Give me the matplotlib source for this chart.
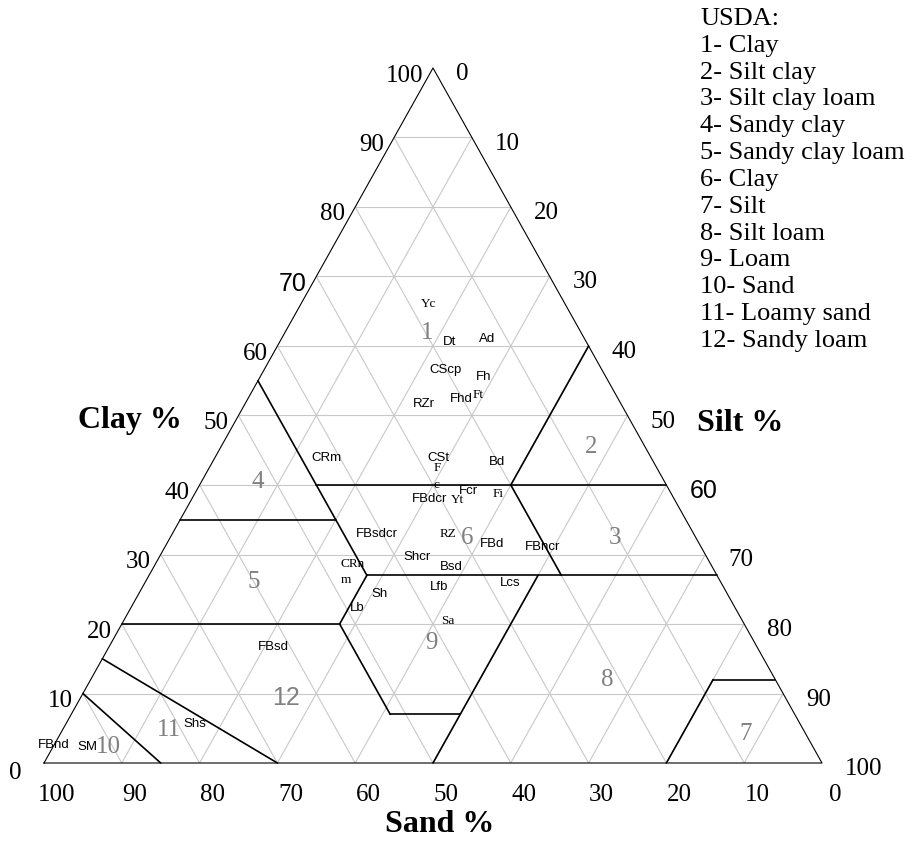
import matplotlib
matplotlib.use("Agg")
import matplotlib.pyplot as plt

SERIF = "Liberation Serif"
SANS = "Liberation Sans"

# ---- data -------------------------------------------------------------
# texture-class boundaries, each as a polyline of (clay %, silt %) vertices
boundary_clay = [
    [55, 27], [40, 40], [35, 35], [60, 40], [40, 27], [27, 27],
    [27, 20], [20, 7], [7, 7], [27, 0], [20, 20], [15, 0], [10, 0],
    [12, 0], [12, 12],
]
boundary_silt = [
    [0, 28], [15, 60], [0, 20], [40, 40], [40, 53], [28, 73],
    [28, 28], [28, 41], [41, 50], [50, 50], [0, 28], [0, 30], [0, 15],
    [80, 80], [80, 88],
]

# USDA class numbers and where they sit
class_ids = ["1", "2", "3", "4", "5", "6", "7", "8", "9", "10", "11", "12"]
class_clay = [61.9, 45.5, 32.4, 40.4, 26.0, 32.4, 4.2, 11.9, 17.3, 2.3, 4.7, 9.4]
class_silt = [18.3, 47.6, 57.2, 7.3, 13.9, 38.2, 88.1, 66.4, 41.2, 7.1, 13.7, 26.4]

# soil samples
sample_names = [
    "Yc", "Dt", "Ad", "CScp", "Fh", "Ft", "Fhd", "RZr", "CRm", "CSt", "F", "Bd",
    "c", "Fcr", "Fi", "FBdcr", "Yt", "FBsdcr", "RZ", "FBd", "FBncr", "CRn", "m",
    "Shcr", "Bsd", "Lfb", "Lcs", "Sh", "Lb", "Sa", "FBsd", "Shs", "FBnd", "SM",
]
sample_clay = [
    66.0, 60.6, 61.0, 56.5, 55.5, 52.9, 52.4, 51.7, 43.9, 43.9, 42.4, 43.3,
    40.0, 39.2, 38.7, 38.0, 37.8, 32.9, 32.9, 31.5, 31.1, 28.6, 26.3,
    29.6, 28.2, 25.3, 25.9, 24.3, 22.3, 20.4, 16.7, 5.6, 2.6, 2.3,
]
sample_silt = [
    16.4, 21.8, 26.4, 23.4, 28.7, 29.3, 27.5, 23.0, 14.4, 28.7, 29.3, 36.6,
    30.4, 34.9, 39.0, 30.6, 34.3, 26.4, 35.5, 41.8, 48.5, 25.4, 25.7,
    33.1, 38.3, 38.1, 47.0, 31.0, 29.1, 41.7, 21.1, 16.6, 0.0, 4.4,
]
serif_samples = {"Yc", "Ft", "F", "c", "Fi", "Yt", "RZ", "CRn", "m", "Sa"}

ticks = [0, 10, 20, 30, 40, 50, 60, 70, 80, 90, 100]

legend_lines = [
    "USDA:", "1- Clay", "2- Silt clay", "3- Silt clay loam", "4- Sandy clay",
    "5- Sandy clay loam", "6- Clay", "7- Silt", "8- Silt loam", "9- Loam",
    "10- Sand", "11- Loamy sand", "12- Sandy loam",
]


def to_xy(clay, silt):
    """Ternary (clay, silt) -> plot coordinates; sand runs 100..0 left to right."""
    return silt + clay / 2.0, clay


# ---- figure -----------------------------------------------------------
W, H = 916, 863
fig = plt.figure(figsize=(W / 100, H / 100), dpi=100)
ax = fig.add_axes([44 / W, (H - 763) / H, 778 / W, 695 / H])
ax.set_xlim(0, 100)
ax.set_ylim(0, 100)
ax.axis("off")

# light grid every 10 %
grid_kw = dict(color="#c8c8c8", lw=0.8, zorder=1, solid_capstyle="butt")
for k in range(10, 100, 10):
    for c0, s0, c1, s1 in [(k, 0, k, 100 - k),        # constant clay
                           (0, k, 100 - k, k),        # constant silt
                           (0, 100 - k, 100 - k, 0)]: # constant sand
        x0, y0 = to_xy(c0, s0)
        x1, y1 = to_xy(c1, s1)
        ax.plot([x0, x1], [y0, y1], **grid_kw)

# outer triangle
tx, ty = zip(*[to_xy(c, s) for c, s in [(0, 0), (100, 0), (0, 100), (0, 0)]])
ax.plot(tx, ty, color="black", lw=0.8, zorder=3, clip_on=False)

# class boundaries
for cl, sl in zip(boundary_clay, boundary_silt):
    pts = [to_xy(c, s) for c, s in zip(cl, sl)]
    ax.plot([p[0] for p in pts], [p[1] for p in pts], color="black", lw=1.2,
            zorder=4, clip_on=False, solid_capstyle="round")

# class numbers
for name, c, s in zip(class_ids, class_clay, class_silt):
    x, y = to_xy(c, s)
    ax.text(x, y, name, ha="center", va="center", fontsize=18, color="#808080",
            family=SANS if name == "12" else SERIF, zorder=5)

# sample labels
for name, c, s in zip(sample_names, sample_clay, sample_silt):
    x, y = to_xy(c, s)
    ax.text(x, y, name, ha="center", va="center", fontsize=9.5,
            family=SERIF if name in serif_samples else SANS, zorder=6)

PT = 0.72  # points per pixel at 100 dpi

# clay ticks (left side)
for t in ticks:
    x, y = to_xy(t, 0)
    dx, dy = (-10, -7.5) if t > 0 else (-22, -10)
    fam = SANS if t == 70 else SERIF
    ax.annotate(str(t), (x, y), xytext=(dx * PT, dy * PT), textcoords="offset points",
                ha="right", va="center", fontsize=18, family=fam, annotation_clip=False)

# silt ticks (right side)
for t in ticks:
    x, y = to_xy(100 - t, t)
    fam = SANS if t == 60 else SERIF
    ax.annotate(str(t), (x, y), xytext=(23 * PT, -6 * PT), textcoords="offset points",
                ha="left", va="center", fontsize=18, family=fam, annotation_clip=False)

# sand ticks (bottom)
for t in ticks:
    x = 100 - t
    ax.annotate(str(t), (x, 0), xytext=(13 * PT, -32 * PT), textcoords="offset points",
                ha="center", va="center", fontsize=18, family=SERIF, annotation_clip=False)

# axis titles
title_kw = dict(fontsize=23, fontweight="bold", family=SERIF, ha="center", va="center")
fig.text(130 / W, 1 - 420 / H, "Clay %", **title_kw)
fig.text(740 / W, 1 - 423 / H, "Silt %", **title_kw)
fig.text(440 / W, 1 - 824 / H, "Sand %", **title_kw)

# class legend
for i, line in enumerate(legend_lines):
    fig.text(700 / W, 1 - (19 + 26.83 * i) / H, line, fontsize=19, family=SERIF,
             ha="left", va="center")

fig.savefig("out.png", dpi=100, facecolor="white")
